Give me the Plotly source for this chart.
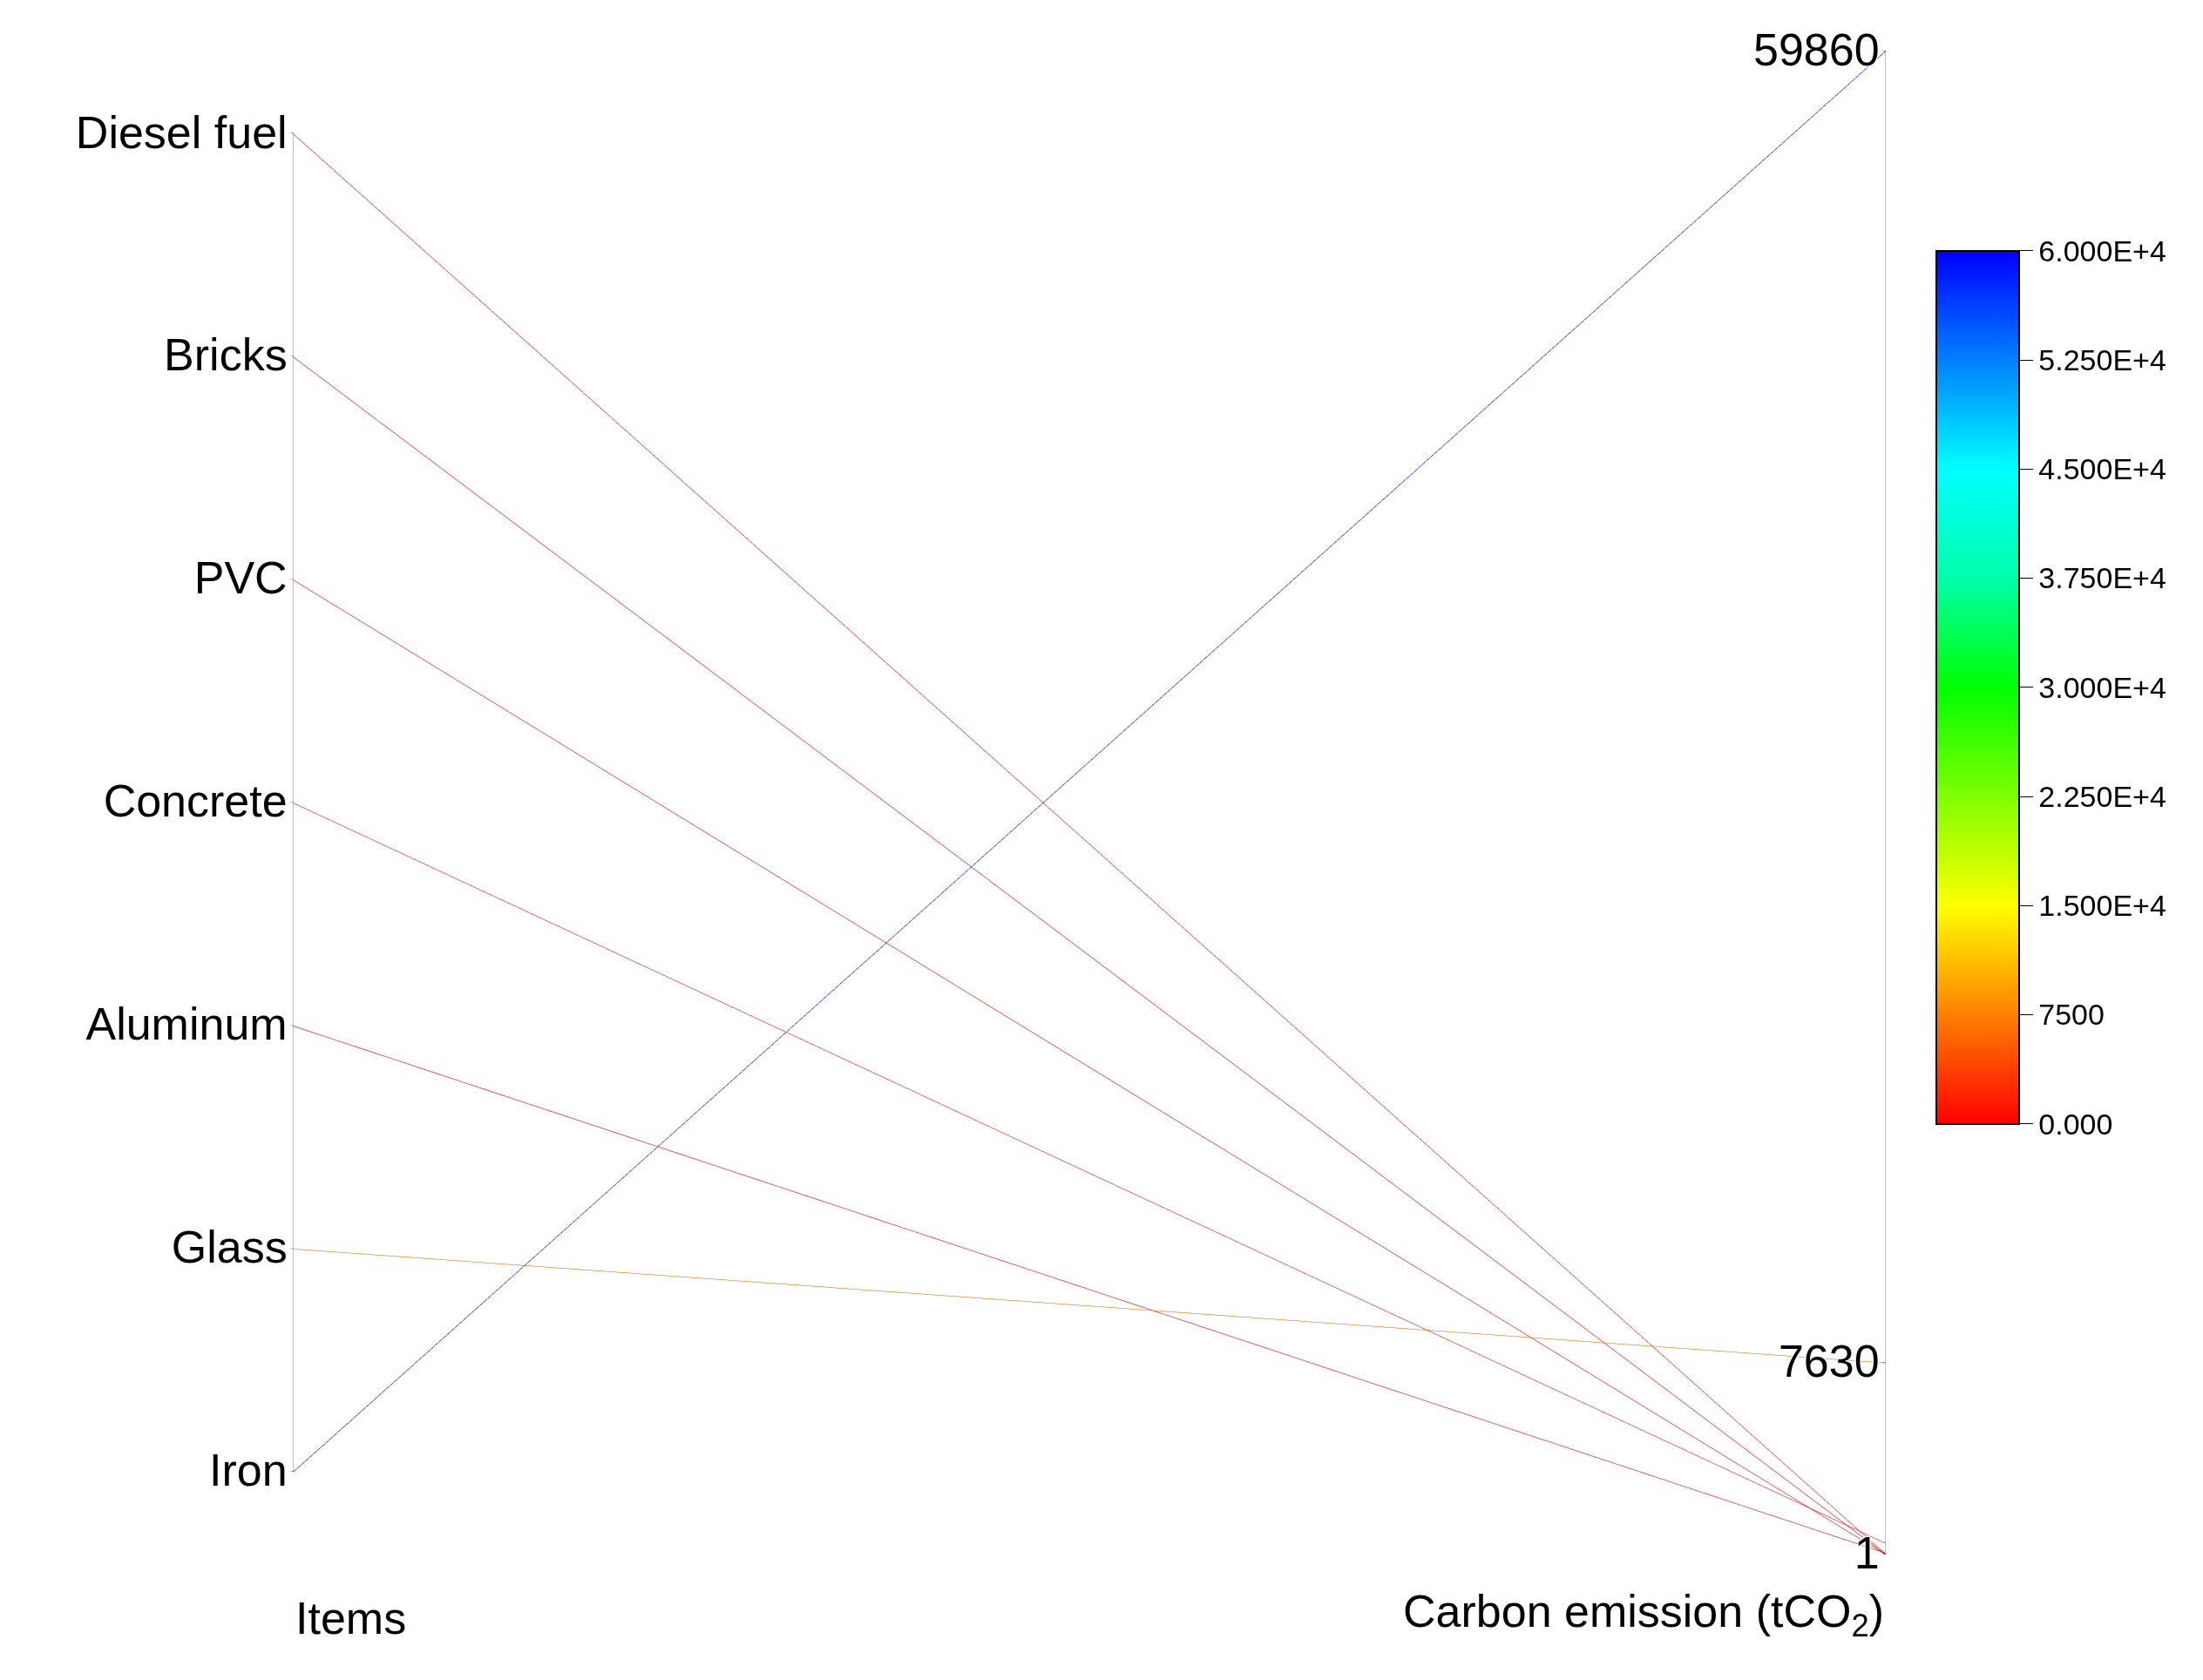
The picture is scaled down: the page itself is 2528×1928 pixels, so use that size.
import plotly.graph_objects as go

items = ["Diesel fuel", "Bricks", "PVC", "Concrete", "Aluminum", "Glass", "Iron"]
item_pos = [6, 5, 4, 3, 2, 1, 0]
emission = [20, 10, 5, 450, 60, 7630, 59860]
emis_ticks = [1, 7630, 59860]
cb_ticks = [0, 7500, 15000, 22500, 30000, 37500, 45000, 52500, 60000]
cb_text = ["0.000", "7500", "1.500E+4", "2.250E+4", "3.000E+4", "3.750E+4", "4.500E+4", "5.250E+4", "6.000E+4"]
axis_titles = ["Items", "Carbon emission (tCO<sub>2</sub>)"]

scale = [[0, "#ff0000"], [0.125, "#ff8000"], [0.25, "#ffff00"], [0.375, "#80ff00"],
         [0.5, "#00ff00"], [0.625, "#00ffaa"], [0.75, "#00ffff"], [0.875, "#0080ff"], [1, "#0000ff"]]

font = "Arial, Liberation Sans"
fig = go.Figure(go.Parcoords(
    line=dict(color=emission, colorscale=scale, cmin=0, cmax=60000, showscale=True,
              colorbar=dict(x=0.872, xanchor="left", y=0.595, len=0.53, thickness=95,
                            tickvals=cb_ticks, ticktext=cb_text, ticks="outside", ticklen=15,
                            tickcolor="black", outlinecolor="black", outlinewidth=2,
                            tickfont=dict(size=34, family=font, color="black"))),
    dimensions=[
        dict(label="", values=item_pos, tickvals=item_pos, ticktext=items, range=[-0.37, 6.37]),
        dict(label="", values=emission, tickvals=emis_ticks,
             ticktext=[str(v) for v in emis_ticks], range=[1, 59860]),
    ],
    labelside="bottom",
    tickfont=dict(size=52, family=font, color="black"),
    labelfont=dict(size=52, family=font, color="black"),
    rangefont=dict(size=1, color="rgba(0,0,0,0)"),
    domain=dict(x=[0.13, 0.853], y=[0.078, 0.975]),
))
for xpos, t in zip([0.13, 0.853], axis_titles):
    fig.add_annotation(text=t, x=xpos, y=0.025, xref="paper", yref="paper",
                       showarrow=False, font=dict(size=52, family=font, color="black"))
fig.update_layout(width=2528, height=1928, paper_bgcolor="white", margin=dict(l=0, r=0, t=0, b=0))
fig.write_html("out.html")
